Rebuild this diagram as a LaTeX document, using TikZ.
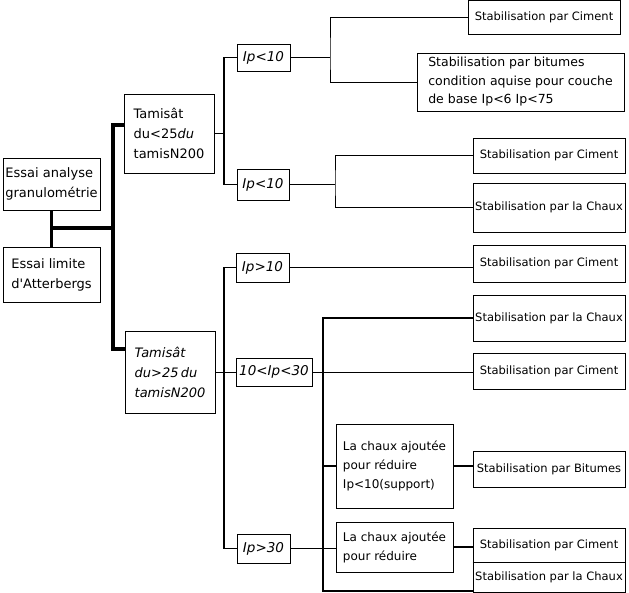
\documentclass[tikz,border=0pt]{standalone}
\usepackage{fontspec}
\setmainfont{DejaVu Sans}
\begin{document}
\begin{tikzpicture}[x=1pt,y=-1pt,
        boite/.style={draw,line width=0.8pt,inner sep=1pt,align=left},
        grand/.style={boite,font=\fontsize{13}{20}\selectfont},
        grandit/.style={boite,font=\fontsize{13}{20}\selectfont\itshape},
        ip/.style={boite,font=\fontsize{13.5}{16}\selectfont\itshape},
        note/.style={boite,font=\fontsize{12}{19}\selectfont},
        res/.style={boite,minimum width=152pt,font=\fontsize{11.5}{14}\selectfont},
        fin/.style={line width=0.9pt},
        mi/.style={line width=1.2pt},
        moyen/.style={line width=1.8pt},
        gros/.style={line width=3.5pt}]
        \useasboundingbox (0,0) rectangle (629,593);
        \node[grand,minimum width=97pt,minimum height=52pt] (G) at (51.5,184) {Essai analyse\\granulométrie};
        \node[grand,minimum width=97pt,minimum height=55pt] (L) at (51.5,274.5) {Essai limite\\d\textquotesingle Atterbergs};
        \node[grand,minimum width=90pt,minimum height=79pt] (T1) at (169,133.5) {Tamisât\\du<25\textit{du}\\tamisN200};
        \node[grandit,minimum width=90pt,minimum height=82pt] (T2) at (170,372) {Tamisât\\du>25\,du\\tamisN200};
        \node[ip,minimum width=53pt,minimum height=27pt] (P1) at (263.5,57.5) {Ip<10};
        \node[ip,minimum width=52pt,minimum height=31pt] (P2) at (263,184.5) {Ip<10};
        \node[ip,minimum width=53pt,minimum height=29pt] (P3) at (262.5,267.5) {Ip>10};
        \node[ip,minimum width=76pt,minimum height=28pt] (P4) at (274,372) {10<Ip<30};
        \node[ip,minimum width=53pt,minimum height=29pt] (P5) at (263.5,548.5) {Ip>30};
        \node[res,minimum height=33.5pt] (R1) at (544,17.25) {Stabilisation par Ciment};
        \node[note,font=\fontsize{12.5}{18.5}\selectfont,minimum width=207pt,minimum height=58pt] (R2) at (520.5,82) {Stabilisation par bitumes\\condition aquise pour couche\\de base Ip<6 Ip<75};
        \node[res,minimum height=35pt] (R3) at (549,155.5) {Stabilisation par Ciment};
        \node[res,minimum height=49pt] (R4) at (549,207.5) {Stabilisation par la Chaux};
        \node[res,minimum height=37pt] (R5) at (549,263.5) {Stabilisation par Ciment};
        \node[res,minimum height=46pt] (R6) at (549,318) {Stabilisation par la Chaux};
        \node[res,minimum height=36pt] (R7) at (549,371) {Stabilisation par Ciment};
        \node[note,minimum width=117pt,minimum height=84pt] (C1) at (394.5,466) {La chaux ajoutée\\pour réduire\\Ip<10(support)};
        \node[res,minimum height=36pt] (R8) at (549,469) {Stabilisation par Bitumes};
        \node[note,minimum width=117pt,minimum height=50pt] (C2) at (394.5,547) {La chaux ajoutée\\pour réduire};
        \node[res,minimum height=34pt] (R9) at (549,545) {Stabilisation par Ciment};
        \node[res,minimum height=30pt] (R10) at (549,577) {Stabilisation par la Chaux};
        % tronc
        \coordinate (n0) at (113,228);
        \draw[gros] (G) -- (L);
        \draw[gros] (G |- n0) -- (n0);
        \draw[gros] ([yshift=8.5pt]T1.west) -| (n0) |- ([yshift=23pt]T2.west);
        % Ip
        \coordinate (n1) at (224,133.5);
        \coordinate (n2) at (224,372);
        \draw[fin] (T1) -- (n1);
        \draw[moyen] (P1) -| (n1) |- (P2);
        \draw[fin] (T2) -- (n2);
        \draw[moyen] (P3) -| (n2) |- (P5);
        \draw[fin] (n2) -- (P4);
        % resultats
        \coordinate (n3) at (330,57.5);
        \coordinate (n4) at (335,184.5);
        \coordinate (n5) at (323,591);
        \draw[fin] (P1) -- (n3);
        \draw[fin] (R1) -| (n3) |- (R2);
        \draw[fin] (P2) -- (n4);
        \draw[fin] (R3) -| (n4) |- (R4);
        \draw[fin] (P3) -- (P3 -| R5.west);
        \draw[fin] (P4) -- (P4 -| R7.west);
        \draw[mi] (R6) -| (n5) -- (n5 -| R10.west);
        \draw[moyen] (C1 -| n5) -- (C1);
        \draw[moyen] (C1) -- (C1 -| R8.west);
        \draw[fin] (P5) -- (P5 -| C2.west);
        \draw[moyen] (C2) -- (C2 -| R9.west);
        \draw[moyen] (R9.south west) -- (R9.south east);
    \end{tikzpicture}
\end{document}
